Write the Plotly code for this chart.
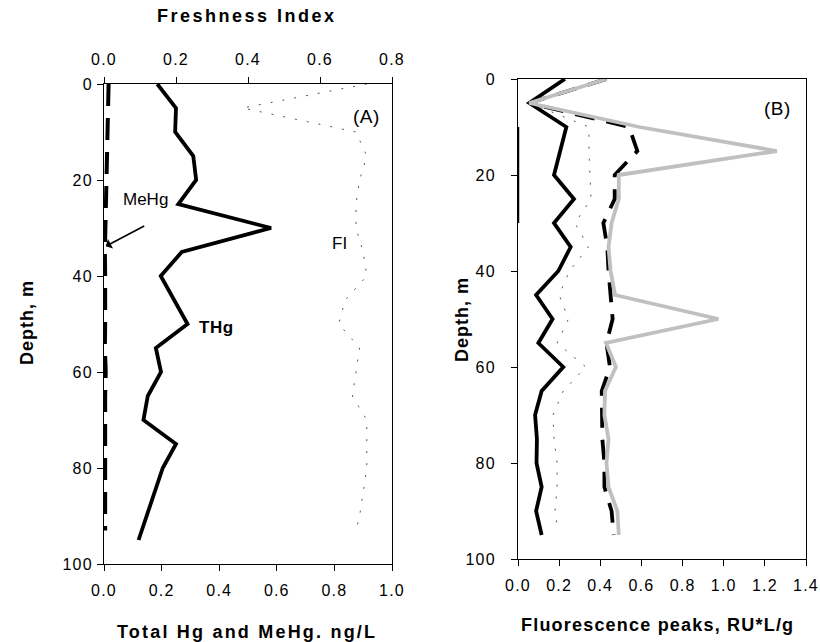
import plotly.graph_objects as go

W, H = 820, 642

# ---------------- Panel A data ----------------
thg_depth = [0, 5, 10, 15, 20, 25, 30, 35, 40, 50, 55, 60, 65, 70, 75, 80, 95]
thg = [0.185, 0.25, 0.247, 0.31, 0.32, 0.258, 0.58, 0.27, 0.197, 0.29, 0.18, 0.198,
       0.152, 0.137, 0.25, 0.204, 0.12]

a_depth = [0, 5, 10, 15, 20, 25, 30, 35, 40, 45, 50, 55, 60, 65, 70, 75, 80, 85, 90, 93]
mehg = [0.016, 0.014, 0.011, 0.009, 0.006, 0.005, 0.004, 0.003, 0.004, 0.005,
        0.004, 0.003, 0.006, 0.004, 0.004, 0.005, 0.004, 0.004, 0.005, 0.004]
fi = [0.73, 0.385, 0.70, 0.73, 0.71, 0.70, 0.70, 0.72, 0.73, 0.67,
      0.652, 0.71, 0.70, 0.69, 0.73, 0.73, 0.73, 0.72, 0.71, 0.70]

# ---------------- Panel B data ----------------
b_depth = [0, 5, 10, 15, 20, 25, 30, 35, 40, 45, 50, 55, 60, 65, 70, 75, 80, 85, 90, 95]
peak_black = [0.228, 0.055, 0.235, 0.205, 0.175, 0.272, 0.175, 0.256, 0.196, 0.088,
              0.168, 0.099, 0.22, 0.115, 0.083, 0.092, 0.09, 0.115, 0.088, 0.115]
peak_dash = [0.43, 0.055, 0.54, 0.58, 0.47, 0.47, 0.415, 0.434, 0.44, 0.45,
             0.46, 0.43, 0.447, 0.407, 0.41, 0.41, 0.42, 0.42, 0.455, 0.465]
peak_gray = [0.43, 0.055, 0.59, 1.258, 0.49, 0.49, 0.455, 0.44, 0.45, 0.472,
             0.974, 0.428, 0.476, 0.423, 0.42, 0.44, 0.43, 0.44, 0.483, 0.49]
dot_depth = [5, 10, 15, 20, 25, 30, 35, 40, 45, 50, 55, 60, 65, 70, 75, 80, 85, 90, 93]
peak_dot = [0.055, 0.345, 0.345, 0.35, 0.355, 0.277, 0.342, 0.25, 0.20, 0.245,
            0.19, 0.33, 0.22, 0.17, 0.175, 0.19, 0.19, 0.18, 0.19]
left_depth = [10, 30]
left_val = [0, 0]

x_ticks_a = [0.0, 0.2, 0.4, 0.6, 0.8, 1.0]
x_ticks_fi = [0.0, 0.2, 0.4, 0.6, 0.8]
x_ticks_b = [0.0, 0.2, 0.4, 0.6, 0.8, 1.0, 1.2, 1.4]
y_ticks = [0, 20, 40, 60, 80, 100]

FONT = "Liberation Sans, Arial, sans-serif"
TICKF = dict(family=FONT, size=16, color="black")


def px(x):
    return x / W


def py(y):
    return 1 - y / H


def spaced(s, ls):
    return '<span style="letter-spacing:%spx">%s</span>' % (ls, s)


def fmt_ticks(vals, dec):
    return [spaced(("%." + str(dec) + "f") % v, 1.2) for v in vals]


fig = go.Figure()

# Panel A
fig.add_trace(go.Scatter(x=fi, y=a_depth, xaxis="x3", yaxis="y", mode="lines",
                         line=dict(color="#555555", width=1, dash="2px,10px")))
fig.add_trace(go.Scatter(x=mehg, y=a_depth, xaxis="x", yaxis="y", mode="lines",
                         line=dict(color="black", width=4, dash="22px,12px")))
fig.add_trace(go.Scatter(x=thg, y=thg_depth, xaxis="x", yaxis="y", mode="lines",
                         line=dict(color="black", width=3.8)))

# Panel B
fig.add_trace(go.Scatter(x=left_val, y=left_depth, xaxis="x2", yaxis="y2", mode="lines",
                         line=dict(color="black", width=2.5)))
fig.add_trace(go.Scatter(x=peak_dot, y=dot_depth, xaxis="x2", yaxis="y2", mode="lines",
                         line=dict(color="#555555", width=1, dash="2px,10px")))
fig.add_trace(go.Scatter(x=peak_black, y=b_depth, xaxis="x2", yaxis="y2", mode="lines",
                         line=dict(color="black", width=3.8)))
fig.add_trace(go.Scatter(x=peak_dash, y=b_depth, xaxis="x2", yaxis="y2", mode="lines",
                         line=dict(color="black", width=3.8, dash="20px,12px")))
fig.add_trace(go.Scatter(x=peak_gray, y=b_depth, xaxis="x2", yaxis="y2", mode="lines",
                         line=dict(color="#C0C0C0", width=3.8)))

axis_common = dict(showline=True, linecolor="black", linewidth=1, ticks="outside",
                   ticklen=6, tickcolor="black", showgrid=False, zeroline=False,
                   tickfont=TICKF, automargin=False)

fig.update_layout(
    template="none",
    width=W, height=H,
    margin=dict(l=0, r=0, t=0, b=0, autoexpand=False),
    paper_bgcolor="white", plot_bgcolor="white",
    showlegend=False,
    xaxis=dict(domain=[px(104), px(392)], range=[0, 1], tickvals=x_ticks_a,
               ticktext=fmt_ticks(x_ticks_a, 1), anchor="y", ticklabelstandoff=6,
               **axis_common),
    yaxis=dict(domain=[py(564), py(84)], range=[100, 0], tickvals=y_ticks,
               ticktext=fmt_ticks(y_ticks, 0), anchor="x", mirror=True,
               ticklabelstandoff=1, **axis_common),
    xaxis3=dict(overlaying="x", side="top", range=[0, 0.8], tickvals=x_ticks_fi,
                ticktext=fmt_ticks(x_ticks_fi, 1), anchor="y", ticklabelstandoff=6,
                **axis_common),
    xaxis2=dict(domain=[px(518), px(806)], range=[0, 1.4], tickvals=x_ticks_b,
                ticktext=fmt_ticks(x_ticks_b, 1), anchor="y2", mirror=True,
                ticklabelstandoff=6, **axis_common),
    yaxis2=dict(domain=[py(559), py(79)], range=[100, 0], tickvals=y_ticks,
                ticktext=fmt_ticks(y_ticks, 0), anchor="x2", mirror=True,
                ticklabelstandoff=12, **axis_common),
)

annots = [
    dict(x=px(247), y=py(16), text="<b>Freshness Index</b>", size=18, ls=2.5),
    dict(x=px(247), y=py(632), text="<b>Total Hg and MeHg. ng/L</b>", size=18, ls=2.2),
    dict(x=px(657), y=py(625), text="<b>Fluorescence peaks, RU*L/g</b>", size=18, ls=1.2),
    dict(x=px(27), y=py(323), text="<b>Depth, m</b>", size=18, angle=-90, ls=1.0),
    dict(x=px(462), y=py(319), text="<b>Depth, m</b>", size=18, angle=-90, ls=1.0),
    dict(x=px(366), y=py(117), text="(A)", size=19, ls=0.5),
    dict(x=px(777), y=py(108), text="(B)", size=19, ls=0.5),
    dict(x=px(145), y=py(199), text="MeHg", size=17, ls=0),
    dict(x=px(216), y=py(327), text="<b>THg</b>", size=17, ls=0.5),
    dict(x=px(339), y=py(243), text="FI", size=17, ls=0),
]
for a in annots:
    fig.add_annotation(x=a["x"], y=a["y"], xref="paper", yref="paper",
                       text=spaced(a["text"], a["ls"]) if a["ls"] else a["text"],
                       showarrow=False, textangle=a.get("angle", 0),
                       font=dict(family=FONT, size=a["size"], color="black"),
                       xanchor="center", yanchor="middle")

fig.add_annotation(x=0.006, y=33.8, xref="x", yref="y", text="", showarrow=True,
                   ax=40, ay=-21, arrowhead=1, arrowsize=1.2, arrowwidth=1.5,
                   arrowcolor="black")

fig.write_html("out.html", config={"displayModeBar": False},
               post_script="document.body.style.margin='0';document.body.style.padding='0';")
